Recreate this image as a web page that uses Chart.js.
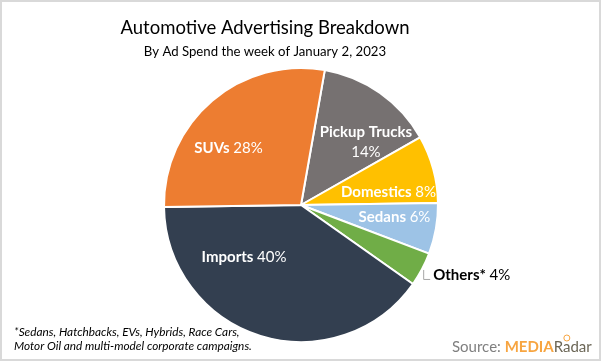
<!DOCTYPE html>
<html>
<head>
<meta charset="utf-8">
<script src="https://cdn.jsdelivr.net/npm/chart.js@4.4.0/dist/chart.umd.min.js"></script>
<style>
  body { margin: 0; background: #fff; }
  canvas { display: block; }
</style>
</head>
<body>
<canvas id="myPie" width="601" height="361"></canvas>
<script>
// data
var categories = ['Pickup Trucks', 'Domestics', 'Sedans', 'Others*', 'Imports', 'SUVs'];
var shares = [14, 8, 6, 4, 40, 28];
var colours = ['#767171', '#FFC000', '#9DC3E6', '#70AD47', '#333F50', '#ED7D31'];

var FONT = 'Lato, "Open Sans", sans-serif';

// where each label sits: angle (deg clockwise from top) and fraction of radius
var labelSpots = [
    { a: 45.9, r: 0.66, two: true },
    { a: 81.5, r: 0.646 },
    { a: 97.3, r: 0.688 },
    { a: 118, r: 1.01, outside: true },
    { a: 227.6, r: 0.563 },
    { a: 308.2, r: 0.673 }
];

function mixedText(ctx, bold, rest, x, y, colour, size) {
    ctx.font = 'bold ' + size + 'px ' + FONT;
    var w1 = ctx.measureText(bold).width;
    ctx.font = size + 'px ' + FONT;
    var w2 = ctx.measureText(rest).width;
    var left = x - (w1 + w2) / 2;
    ctx.fillStyle = colour;
    ctx.textAlign = 'left';
    ctx.font = 'bold ' + size + 'px ' + FONT;
    ctx.fillText(bold, left, y);
    ctx.font = size + 'px ' + FONT;
    ctx.fillText(rest, left + w1, y);
}

var textPlugin = {
    id: 'textPlugin',
    afterDraw: function (chart) {
        var ctx = chart.ctx;
        var arc = chart.getDatasetMeta(0).data[0];
        var cx = arc.x, cy = arc.y, R = arc.outerRadius;
        ctx.save();
        ctx.textBaseline = 'middle';

        // titles
        ctx.textAlign = 'center';
        ctx.fillStyle = '#000';
        ctx.font = '18.5px ' + FONT;
        ctx.fillText('Automotive Advertising Breakdown', 265, 28);
        ctx.font = '13.2px ' + FONT;
        ctx.fillText('By Ad Spend the week of January 2, 2023', 265, 52);

        // slice labels
        for (var i = 0; i < categories.length; i++) {
            var s = labelSpots[i];
            var rad = s.a * Math.PI / 180;
            var x = cx + R * s.r * Math.sin(rad);
            var y = cy - R * s.r * Math.cos(rad);
            var pct = shares[i] + '%';
            if (s.two) {
                mixedText(ctx, categories[i], '', x, y - 10, '#fff', 15);
                mixedText(ctx, '', pct, x, y + 10, '#fff', 15);
            } else if (s.outside) {
                ctx.strokeStyle = '#a6a6a6';
                ctx.lineWidth = 1;
                ctx.beginPath();
                ctx.moveTo(x + 0.5, y);
                ctx.lineTo(x + 0.5, y + 9.5);
                ctx.lineTo(x + 7, y + 9.5);
                ctx.stroke();
                ctx.font = 'bold 15px ' + FONT;
                var wb = ctx.measureText(categories[i] + ' ').width;
                ctx.font = '15px ' + FONT;
                var wn = ctx.measureText(pct).width;
                mixedText(ctx, categories[i] + ' ', pct, x + 10 + (wb + wn) / 2, y + 5, '#000', 15);
            } else {
                mixedText(ctx, categories[i] + ' ', pct, x, y, '#fff', 15);
            }
        }

        // footnote
        ctx.textAlign = 'left';
        ctx.fillStyle = '#000';
        ctx.font = 'italic 11.8px ' + FONT;
        ctx.fillText('*Sedans, Hatchbacks, EVs, Hybrids, Race Cars,', 14, 332);
        ctx.fillText('Motor Oil and multi-model corporate campaigns.', 14, 346);

        // source
        ctx.font = '15px ' + FONT;
        ctx.fillStyle = '#7f7f7f';
        ctx.fillText('Source: ', 452, 347);
        var sx = 452 + ctx.measureText('Source: ').width;
        ctx.font = 'bold 15px ' + FONT;
        ctx.fillStyle = '#F7A541';
        ctx.fillText('MEDIA', sx, 347);
        sx += ctx.measureText('MEDIA').width;
        ctx.font = '15px ' + FONT;
        ctx.fillStyle = '#6b6656';
        ctx.fillText('Radar', sx, 347);
        var wr = ctx.measureText('R').width;
        var wa = ctx.measureText('a').width;
        ctx.strokeStyle = '#F7A541';
        ctx.lineWidth = 1;
        ctx.beginPath();
        ctx.arc(sx + wr + wa / 2, 338, 3, 0, Math.PI * 2);
        ctx.stroke();

        // frame
        ctx.strokeStyle = '#d9d9d9';
        ctx.lineWidth = 2;
        ctx.strokeRect(1, 1, 599, 359);
        ctx.restore();
    }
};

var ctx = document.getElementById('myPie');
var myChart = new Chart(ctx, {
    type: 'pie',
    data: {
        labels: categories,
        datasets: [{
            data: shares,
            backgroundColor: colours,
            borderColor: '#fff',
            borderWidth: 2
        }]
    },
    options: {
        responsive: false,
        animation: false,
        rotation: 10,
        layout: { padding: { top: 67, bottom: 18, left: 163, right: 162 } },
        plugins: {
            legend: { display: false },
            tooltip: { enabled: false }
        }
    },
    plugins: [textPlugin]
});
</script>
</body>
</html>
